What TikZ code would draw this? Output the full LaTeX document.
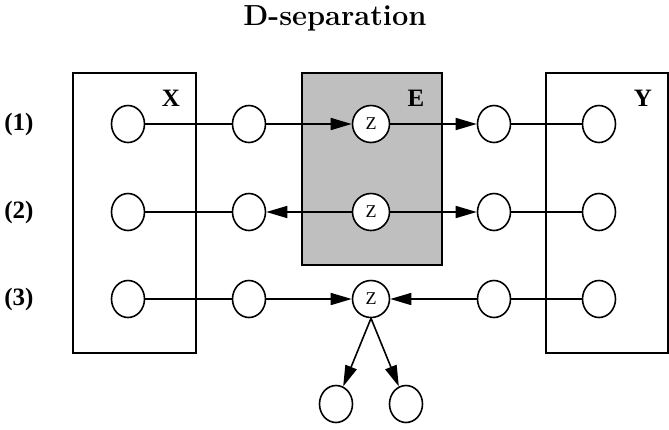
\documentclass[tikz,border=0pt]{standalone}
\usepackage{fontspec}
\usepackage{tikz}
\usetikzlibrary{arrows.meta}
\usetikzlibrary{shapes.geometric}
\newfontfamily\tmsfont{Liberation Serif}

\begin{document}
\begin{tikzpicture}[x=1pt, y=-1pt,
        var/.style={draw, ellipse, fill=white, line width=1.6pt, minimum width=33pt, minimum height=37pt, inner sep=0pt},
        zvar/.style={draw, circle, fill=white, line width=1.6pt, minimum size=37pt, inner sep=0pt, font=\tmsfont\fontsize{18}{20}\selectfont},
        setbox/.style={draw, line width=1.6pt},
        rowlabel/.style={font=\tmsfont\bfseries\fontsize{25}{29}\selectfont},
        edge/.style={line width=1.6pt},
        arc/.style={line width=1.6pt, -{Triangle[length=21pt,width=12pt]}}]
        \useasboundingbox (0,0) rectangle (669,429);

        % Title
        \node (title) at (335,18) {\bfseries\fontsize{29}{34}\selectfont D-separation};

        % The three sets X, E and Y
        \draw[setbox] (73,73) rectangle (196,353);
        \draw[setbox, fill=black!25] (302,73) rectangle (442,265);
        \draw[setbox] (546,73) rectangle (668,353);
        \node[rowlabel] (lx) at (171,98) {X};
        \node[rowlabel] (le) at (416,98) {E};
        \node[rowlabel] (ly) at (643,98) {Y};

        % Row labels
        \node[rowlabel] (r1) at (19,124) {(1)};
        \node[rowlabel] (r2) at (19,212) {(2)};
        \node[rowlabel] (r3) at (19,299) {(3)};

        % Nodes of each row
        \node[var] (x1) at (128,124) {};
        \node[var] (a1) at (249,124) {};
        \node[zvar] (z1) at (371,124) {Z};
        \node[var] (b1) at (494,124) {};
        \node[var] (y1) at (599,124) {};

        \node[var] (x2) at (128,212) {};
        \node[var] (a2) at (249,212) {};
        \node[zvar] (z2) at (371,212) {Z};
        \node[var] (b2) at (494,212) {};
        \node[var] (y2) at (599,212) {};

        \node[var] (x3) at (128,299) {};
        \node[var] (a3) at (249,299) {};
        \node[zvar] (z3) at (371,299) {Z};
        \node[var] (b3) at (494,299) {};
        \node[var] (y3) at (599,299) {};

        \node[var] (c1) at (336,404) {};
        \node[var] (c2) at (406,404) {};

        % Chain
        \draw[edge] (x1) -- (a1);
        \draw[arc] (a1) -- (z1);
        \draw[arc] (z1) -- (b1);
        \draw[edge] (b1) -- (y1);

        % Fork
        \draw[edge] (x2) -- (a2);
        \draw[arc] (z2) -- (a2);
        \draw[arc] (z2) -- (b2);
        \draw[edge] (b2) -- (y2);

        % Collider
        \draw[edge] (x3) -- (a3);
        \draw[arc] (a3) -- (z3);
        \draw[arc] (b3) -- (z3);
        \draw[edge] (b3) -- (y3);
        \draw[arc] (z3.south) -- (c1);
        \draw[arc] (z3.south) -- (c2);
\end{tikzpicture}
\end{document}
